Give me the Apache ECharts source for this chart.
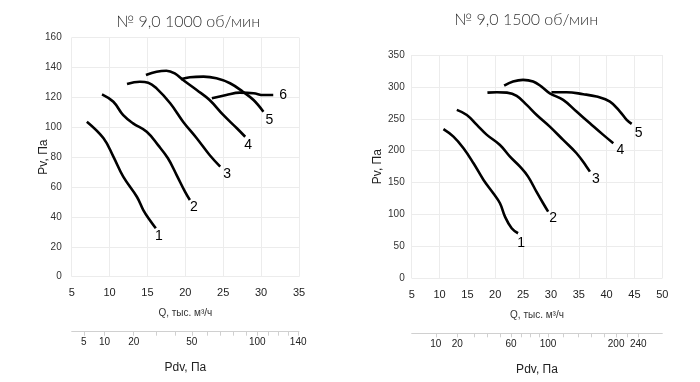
<!DOCTYPE html>
<html><head><meta charset="utf-8">
<script src="https://cdn.jsdelivr.net/npm/echarts@6/dist/echarts.min.js"></script>
<style>html,body{margin:0;padding:0;background:#fff}#c{width:700px;height:382px}</style>
</head><body><div id="c"></div>
<script>
// ---- data ----
const titles = ['№ 9,0 1000 об/мин', '№ 9,0 1500 об/мин'];
const curveNames = ['1','2','3','4','5','6'];
// left chart (1000 rpm): [Q thousand m3/h, Pv Pa]
const L1 = [[7.0,103.7],[9.2,92.6],[10.5,80.3],[11.8,66.9],[13.6,53.5],[14.45,44.6],[15.3,37.9],[16.1,32.4]];
const L2 = [[9.0,122],[10.5,117],[11.8,108],[13.1,102.6],[14.9,97],[16.4,88],[17.7,79.2],[18.85,68],[19.95,56.9],[20.6,51.3]];
const L3 = [[12.3,128.9],[14.0,130.4],[15.1,129.8],[16.2,126],[18.0,116],[19.7,103.7],[21.5,92.6],[23.2,81.4],[24.6,73.6]];
const L4 = [[14.8,134.9],[16.2,137.1],[17.5,137.8],[18.6,136],[19.7,131.6],[21.5,124.9],[23.2,118.2],[25.0,108.2],[26.8,99.3],[27.9,93.6]];
const L5 = [[19.4,132],[20.6,133.4],[22.4,133.8],[24.1,132.7],[25.9,129.4],[27.6,123.7],[29.0,118.2],[30.3,110.4]];
const L6 = [[23.5,119.3],[25.4,121.5],[27.2,123.1],[29.0,122.7],[30.3,121.5],[31.6,121.5]];
// right chart (1500 rpm)
const R1 = [[10.7,233.7],[12.5,222],[14.3,203.8],[16.1,180.3],[17.9,154.2],[19.65,133.3],[20.85,117.6],[21.75,96.6],[22.95,78.4],[24.1,70.6]];
const R2 = [[13.1,264],[14.9,256],[16.7,240.4],[18.5,224.8],[20.85,209],[22.65,190.7],[24.45,175],[25.9,159.4],[27.4,135.8],[28.6,117.6],[29.5,104.5]];
const R3 = [[18.6,291],[20.3,291.7],[22.1,291],[23.85,285.9],[25.65,271.8],[27.45,256],[29.8,237.8],[32.2,216.9],[34.6,196],[36.4,175],[37.0,167.2]];
const R4 = [[21.6,302],[23.2,308.4],[25.0,311],[26.8,308.4],[28.3,300.5],[29.8,290],[32.2,279.6],[34.6,261.3],[37.0,243],[39.4,224.8],[41.2,211.7]];
const R5 = [[30.1,291.7],[32.8,291.7],[35.8,288.6],[38.2,284.8],[40.6,277],[42.4,261.3],[43.6,248.3],[44.5,242]];
// axes
const leftQRange = [5, 35], leftPvRange = [0, 160], leftPvStep = 20;
const rightQRange = [5, 50], rightPvRange = [0, 350], rightPvStep = 50;
const qStep = 5;
const leftPdvLabels = [5, 10, 20, 50, 100, 140];
const leftPdvTicks = [5, 10, 20, 30, 40, 50, 60, 70, 80, 90, 100, 110, 120, 130, 140];
const rightPdvLabels = [10, 20, 60, 100, 200, 240];
const rightPdvTicks = [10, 20, 30, 40, 50, 60, 70, 80, 90, 100, 120, 140, 160, 180, 200, 220, 240];
const pdvK = 0.115; // Pdv = k * Q^2

// ---- chart ----
const qOf = p => Math.sqrt(p / pdvK);
const FONT = '"Liberation Sans", Arial, sans-serif';
const labCol = '#333';
function qAxis(gi, r) {
  return { type:'value', gridIndex:gi, min:r[0], max:r[1], interval:qStep,
    name:'Q, тыс. м³/ч', nameLocation:'middle', nameGap:32, nameMoveOverlap:false,
    nameTextStyle:{fontFamily:FONT, fontSize:10, color:labCol},
    axisLine:{show:false}, axisTick:{show:false},
    axisLabel:{fontFamily:FONT, fontSize:11, color:'#222', margin:11},
    splitLine:{show:true, lineStyle:{color:'#ececec', width:1}} };
}
function pdvAxis(gi, r, labels, ticks) {
  return { type:'value', gridIndex:gi, min:r[0], max:r[1], position:'bottom', offset:55,
    name:'Pdv, Па', nameLocation:'middle', nameGap:30, nameMoveOverlap:false,
    nameTextStyle:{fontFamily:FONT, fontSize:12, color:'#222'},
    axisLine:{show:true, lineStyle:{color:'#d0d0d0', width:1}},
    axisTick:{show:true, length:4, lineStyle:{color:'#d0d0d0'}, customValues:ticks.map(qOf)},
    axisLabel:{fontFamily:FONT, fontSize:10, color:'#222', margin:6, customValues:labels.map(qOf),
      formatter:v => String(Math.round(pdvK * v * v))},
    splitLine:{show:false} };
}
function pvAxis(gi, r, step, gap, margin) {
  return { type:'value', gridIndex:gi, min:r[0], max:r[1], interval:step,
    name:'Pv, Па', nameLocation:'middle', nameGap:gap, nameMoveOverlap:false,
    nameTextStyle:{fontFamily:FONT, fontSize:12, color:'#222'},
    axisLine:{show:false}, axisTick:{show:false},
    axisLabel:{fontFamily:FONT, fontSize:10, color:'#333', margin:margin},
    splitLine:{show:true, lineStyle:{color:'#ececec', width:1}} };
}
const leftOffsets = [[3,8],[4,7],[7,7],[3,8],[6,8],[10,0]];
const rightOffsets = [[3,10],[5,7],[6,8],[7,7],[7,9]];
function curve(data, name, xi, yi, off) {
  return { type:'line', name:name, xAxisIndex:xi, yAxisIndex:yi, data:data, smooth:0.4,
    showSymbol:false, symbol:'none', silent:true, animation:false,
    lineStyle:{color:'#000', width:2.6},
    endLabel:{show:true, formatter:name, color:'#000', fontFamily:FONT, fontSize:14,
      distance:0, align:'center', verticalAlign:'middle', offset:off} };
}
const leftCurves = [L1, L2, L3, L4, L5, L6];
const rightCurves = [R1, R2, R3, R4, R5];
const series = [];
leftCurves.forEach((d,i) => series.push(curve(d, curveNames[i], 0, 0, leftOffsets[i])));
rightCurves.forEach((d,i) => series.push(curve(d, curveNames[i], 2, 1, rightOffsets[i])));

const chart = echarts.init(document.getElementById('c'), null, {renderer:'canvas'});
chart.setOption({
  animation:false,
  backgroundColor:'#fff',
  title:[
    {text:titles[0], left:183, top:9, textAlign:'center',
     textStyle:{fontFamily:'Lato, "Open Sans", sans-serif', fontWeight:300, fontSize:16, color:'#333'}},
    {text:titles[1], left:521, top:7, textAlign:'center',
     textStyle:{fontFamily:'Lato, "Open Sans", sans-serif', fontWeight:300, fontSize:16, color:'#333'}}
  ],
  grid:[
    {left:71.7, top:37.5, width:227.3, height:239.2, containLabel:false},
    {left:411.7, top:55, width:250.6, height:223.3, containLabel:false}
  ],
  xAxis:[ qAxis(0, leftQRange), pdvAxis(0, leftQRange, leftPdvLabels, leftPdvTicks),
          qAxis(1, rightQRange), pdvAxis(1, rightQRange, rightPdvLabels, rightPdvTicks) ],
  yAxis:[ pvAxis(0, leftPvRange, leftPvStep, 22, 10), pvAxis(1, rightPvRange, rightPvStep, 28, 7) ],
  series:series
});
</script></body></html>
